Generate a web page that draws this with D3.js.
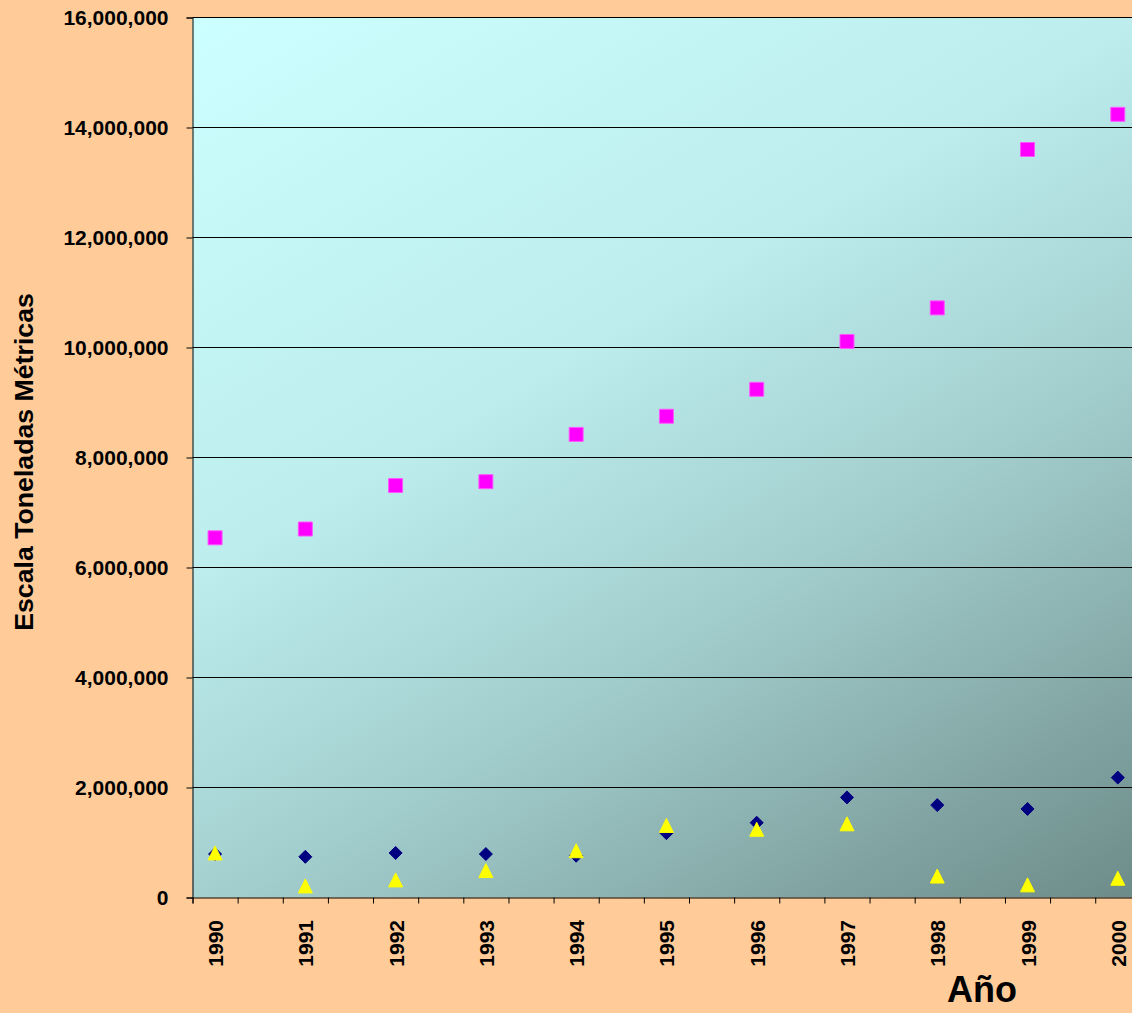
<!DOCTYPE html>
<html>
<head>
<meta charset="utf-8">
<script src="https://cdn.jsdelivr.net/npm/d3@7"></script>
<style>
html,body{margin:0;padding:0;background:#FFCC99;}
svg{display:block;}
text{font-family:"Liberation Sans",Arial,sans-serif;font-weight:bold;fill:#000;}
</style>
</head>
<body>
<svg id="chart" width="1132" height="1013"></svg>
<script>
const years = [1990,1991,1992,1993,1994,1995,1996,1997,1998,1999,2000];
const seriesSquare = [6540000,6700000,7490000,7560000,8420000,8750000,9240000,10110000,10720000,13600000,14240000];
const seriesDiamond = [790000,740000,810000,790000,760000,1170000,1360000,1820000,1680000,1610000,2180000];
const seriesTriangle = [810000,210000,320000,490000,850000,1310000,1240000,1340000,390000,230000,350000];
const yTicks = [0,2000000,4000000,6000000,8000000,10000000,12000000,14000000,16000000];
const xTitle = "Año";
const yTitle = "Escala Toneladas Métricas";

(function(){
const svg = d3.select("#chart");
const W = 1132, H = 1013;
const pLeft = 192.5, pTop = 17.5, pBottom = 897.5, pRightFull = 1185.5;

svg.append("rect").attr("width",W).attr("height",H).attr("fill","#FFCC99");

const x = d3.scaleLinear().domain([1989.75, 2000.75]).range([pLeft, pRightFull]);
const y = d3.scaleLinear().domain([0, 16000000]).range([pBottom, pTop]);

const defs = svg.append("defs");
const grad = defs.append("linearGradient").attr("id","bg")
  .attr("gradientUnits","userSpaceOnUse")
  .attr("x1",192).attr("y1",17).attr("x2",834).attr("y2",1104);
grad.append("stop").attr("offset","0").attr("stop-color","#CCFFFF");
grad.append("stop").attr("offset","0.38").attr("stop-color","#BDEDED");
grad.append("stop").attr("offset","0.62").attr("stop-color","#A2CDCD");
grad.append("stop").attr("offset","1").attr("stop-color","#6A8885");

svg.append("rect").attr("x",pLeft).attr("y",pTop)
  .attr("width",pRightFull-pLeft).attr("height",pBottom-pTop).attr("fill","url(#bg)");

// gridlines
svg.append("g").selectAll("line").data(yTicks.filter(d=>d>0)).join("line")
  .attr("x1",pLeft).attr("x2",pRightFull)
  .attr("y1",d=>y(d)).attr("y2",d=>y(d))
  .attr("stroke","#000").attr("stroke-width",1);

// y axis
const yAxis = d3.axisLeft(y).tickValues(yTicks).tickSize(6).tickPadding(18)
  .tickFormat(d3.format(","));
const gy = svg.append("g").attr("transform",`translate(${pLeft},0)`).call(yAxis);
gy.select(".domain").attr("stroke","#000");
gy.selectAll(".tick line").attr("stroke","#000");
gy.selectAll(".tick text").style("font-size","21px").style("font-family","'Liberation Sans',Arial,sans-serif").style("font-weight","bold").attr("fill","#000");

// x axis with ticks every half-year, labels at years
const xTickVals = d3.range(0, 23).map(i => 1989.75 + i*0.5);
const xAxis = d3.axisBottom(x).tickValues(xTickVals).tickSize(6).tickFormat("");
const gx = svg.append("g").attr("transform",`translate(0,${pBottom})`).call(xAxis);
gx.select(".domain").attr("stroke","#000");
gx.selectAll(".tick line").attr("stroke","#000");

svg.append("g").selectAll("text").data(years).join("text")
  .attr("transform",d=>`translate(${x(d)+8},920) rotate(-90)`)
  .attr("text-anchor","end")
  .style("font-size","21px")
  .text(d=>d);

// markers
const squareSym = { draw(ctx,size){ const s=Math.sqrt(size)/2; ctx.moveTo(-s,-s); ctx.lineTo(s,-s); ctx.lineTo(s,s); ctx.lineTo(-s,s); ctx.closePath(); } };
const diamondSym = { draw(ctx,size){ const r=Math.sqrt(size)/2; ctx.moveTo(0,-r); ctx.lineTo(r,0); ctx.lineTo(0,r); ctx.lineTo(-r,0); ctx.closePath(); } };
const triSym = { draw(ctx,size){ const r=Math.sqrt(size)/2; ctx.moveTo(0,-r); ctx.lineTo(r,r); ctx.lineTo(-r,r); ctx.closePath(); } };

function plotSeries(vals, sym, size, fill, stroke){
  svg.append("g").selectAll("path").data(vals).join("path")
    .attr("d", d3.symbol().type(sym).size(size))
    .attr("transform",(d,i)=>`translate(${x(years[i])},${y(d)})`)
    .attr("fill",fill).attr("stroke",stroke).attr("stroke-width",1);
}
plotSeries(seriesSquare, squareSym, 14*14, "#FF00FF", "#FF55FF");
plotSeries(seriesDiamond, diamondSym, 13*13, "#000080", "#000080");
plotSeries(seriesTriangle, triSym, 14*14, "#FFFF00", "#FFFF00");

// titles
svg.append("text").attr("x",982).attr("y",1002).attr("text-anchor","middle")
  .style("font-size","36px").text(xTitle);
svg.append("text").attr("transform","translate(33,462) rotate(-90)")
  .attr("text-anchor","middle").style("font-size","26.7px").text(yTitle);
})();
</script>
</body>
</html>
